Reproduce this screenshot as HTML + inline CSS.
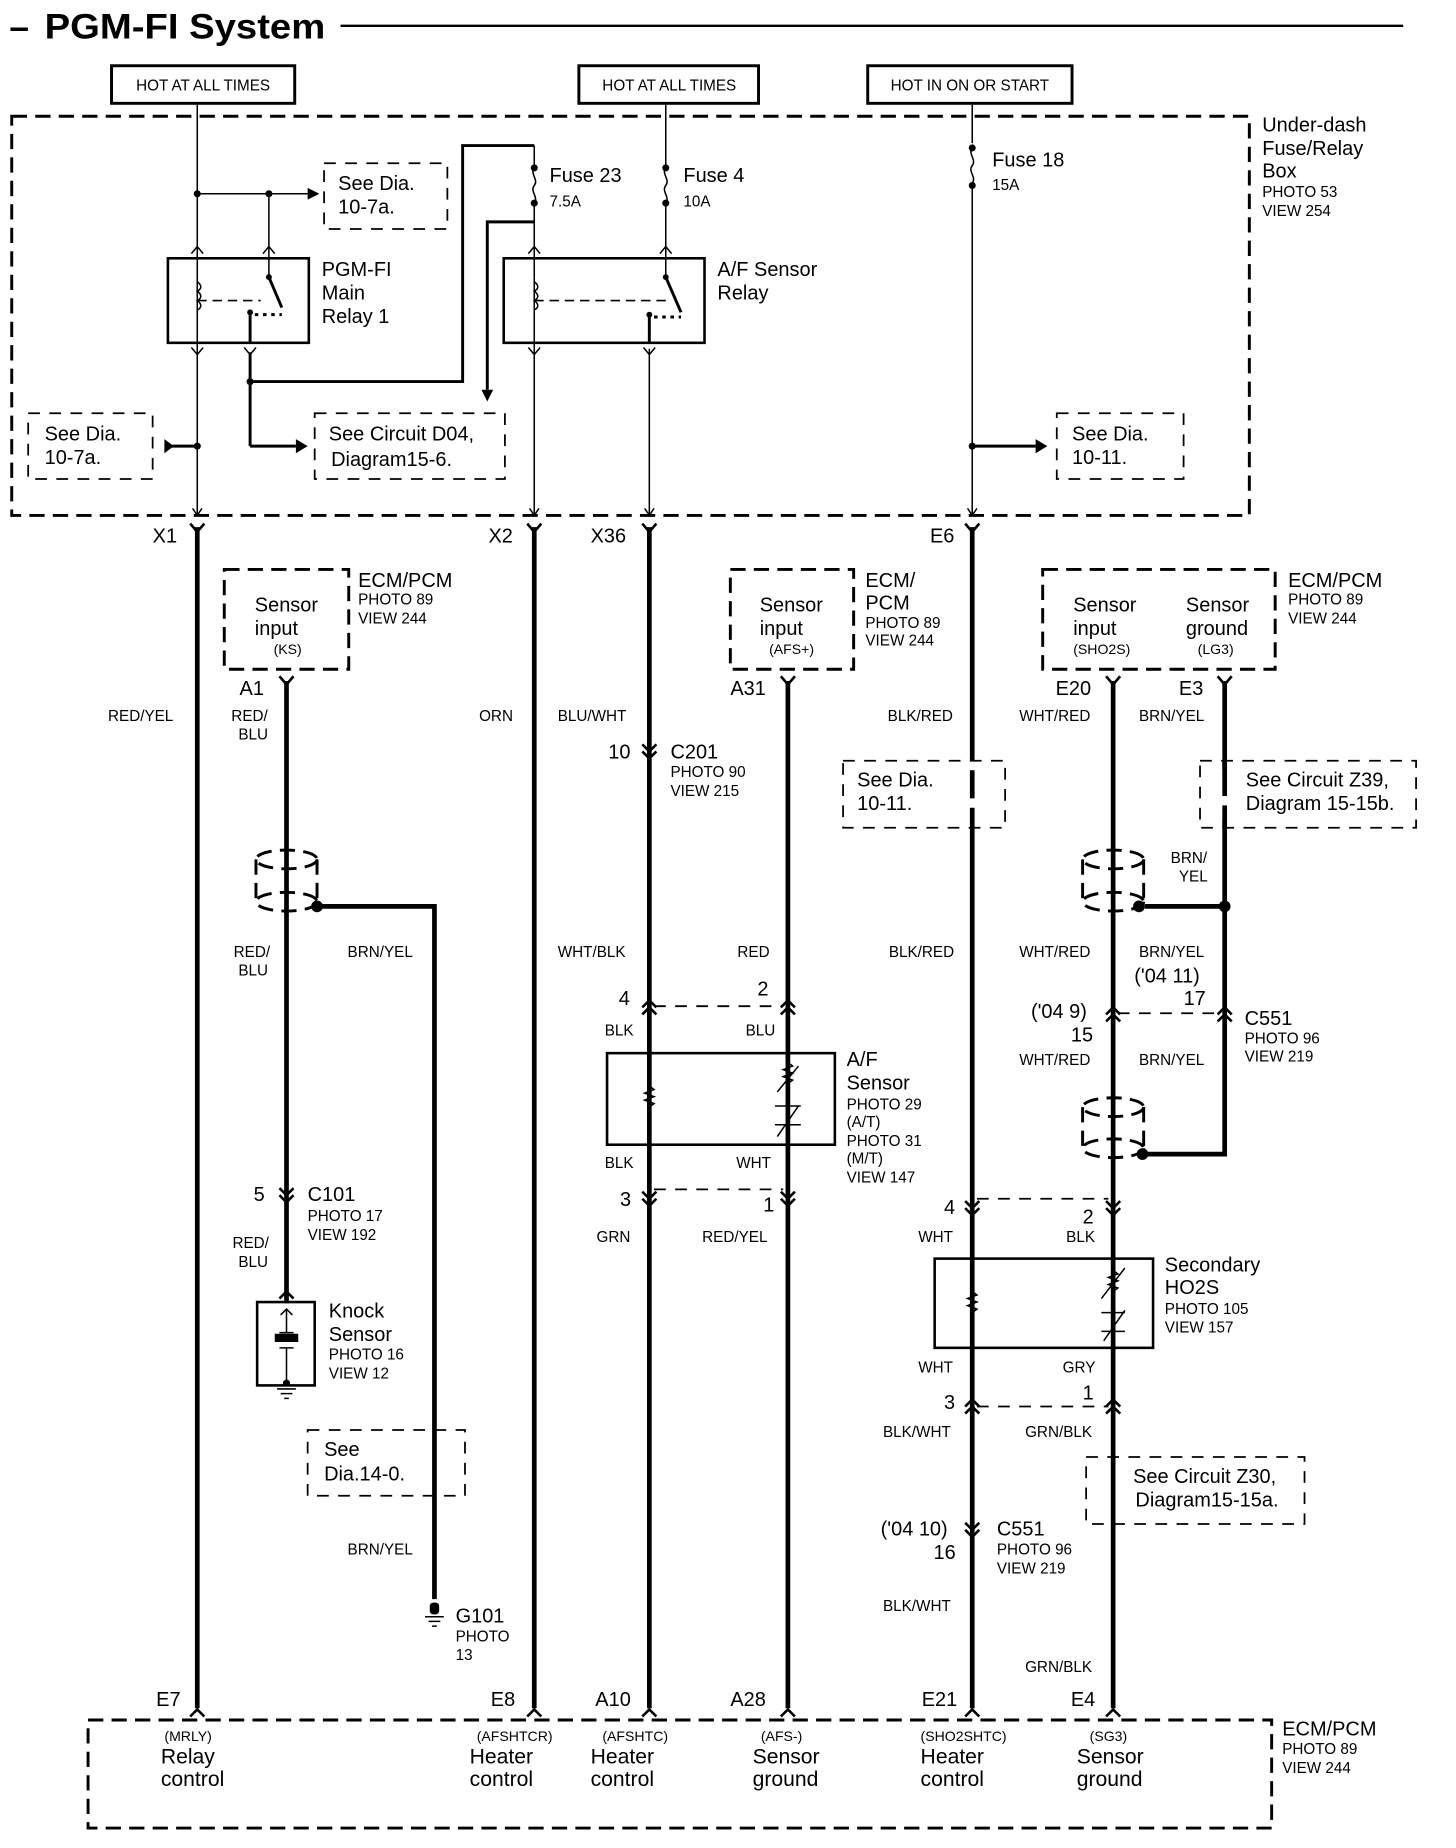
<!DOCTYPE html>
<html><head><meta charset="utf-8"><style>
html,body{margin:0;padding:0;background:#fff}
svg{display:block}
text{font-family:"Liberation Sans",sans-serif;fill:#000}
.l{font-size:17px}.s{font-size:13px}.t{font-size:12px}
.w{stroke:#000;stroke-width:4;fill:none}
.n{stroke:#000;stroke-width:1.3;fill:none}
.m{stroke:#000;stroke-width:2.5;fill:none}
.d{stroke:#000;stroke-width:2.5;fill:none;stroke-dasharray:13,7}
.dt{stroke:#000;stroke-width:1.5;fill:none;stroke-dasharray:10,8}
.c{stroke:#000;stroke-width:2.2;fill:none}
</style></head><body>
<svg width="1456" height="1848" viewBox="0 0 1240 1574" preserveAspectRatio="none">
<!-- title -->
<text x="8" y="33" style="font-size:30px;font-weight:bold">–</text>
<text x="38" y="33" style="font-size:30px;font-weight:bold" textLength="239" lengthAdjust="spacingAndGlyphs">PGM-FI System</text>
<line x1="290" y1="22" x2="1195" y2="22" stroke="#000" stroke-width="2"/>
<!-- hot boxes -->
<rect x="95" y="56" width="156" height="32" class="m"/><text x="173" y="77" class="s" text-anchor="middle">HOT AT ALL TIMES</text>
<rect x="493" y="56" width="153" height="32" class="m"/><text x="570" y="77" class="s" text-anchor="middle">HOT AT ALL TIMES</text>
<rect x="739" y="56" width="174" height="32" class="m"/><text x="826" y="77" class="s" text-anchor="middle">HOT IN ON OR START</text>
<!-- fuse box -->
<rect x="10" y="99" width="1054" height="340" class="d" stroke-width="3"/>
<text x="1075" y="112" class="l">Under-dash</text><text x="1075" y="132" class="l">Fuse/Relay</text><text x="1075" y="151" class="l">Box</text>
<text x="1075" y="168" class="s">PHOTO 53</text><text x="1075" y="184" class="s">VIEW 254</text>
<!-- X1 column -->
<line x1="168" y1="88" x2="168" y2="439" class="n"/>
<circle cx="168" cy="165" r="3"/><circle cx="229" cy="165" r="3"/>
<line x1="168" y1="165" x2="262" y2="165" class="n"/><polygon points="262,160 272,165 262,170"/>
<line x1="229" y1="165" x2="229" y2="236" class="n"/>
<path d="M276,139h105v56h-105z" class="dt"/>
<text x="288" y="162" class="l">See Dia.</text><text x="288" y="182" class="l">10-7a.</text>
<!-- relay1 -->
<rect x="143" y="220" width="120" height="72" class="c" stroke-width="3"/>
<path d="M163,216l5,-6l5,6M224,216l5,-6l5,6M163,296l5,6l5,-6M208,296l5,6l5,-6" class="n"/>
<path d="M168,240c4,3 4,6 0,8c4,3 4,6 0,8c4,3 4,6 0,8" class="n"/>
<line x1="168" y1="256" x2="222" y2="256" class="n" stroke-dasharray="8,5"/>
<circle cx="229" cy="236" r="2.5"/><line x1="229" y1="236" x2="240" y2="262" class="m"/>
<circle cx="213" cy="266" r="2.5"/><line x1="217" y1="268" x2="240" y2="268" class="m" stroke-dasharray="3,4"/>
<line x1="213" y1="266" x2="213" y2="292" class="m"/>
<text x="274" y="235" class="l">PGM-FI</text><text x="274" y="255" class="l">Main</text><text x="274" y="275" class="l">Relay 1</text>
<line x1="213" y1="300" x2="213" y2="380" class="m"/><circle cx="213" cy="325" r="3"/>
<line x1="213" y1="380" x2="252" y2="380" class="m"/><polygon points="252,374 262,380 252,386"/>
<polyline points="213,325 394,325 394,124 455,124" class="m"/>
<polyline points="455,189 415,189 415,332" class="m"/><polygon points="410,332 415,342 420,332"/>
<path d="M268,352h162v56h-162z" class="dt"/>
<text x="280" y="375" class="l">See Circuit D04,</text><text x="282" y="397" class="l">Diagram15-6.</text>
<path d="M24,352h106v56h-106z" class="dt"/>
<text x="38" y="375" class="l">See Dia.</text><text x="38" y="395" class="l">10-7a.</text>
<polygon points="140,374 148,380 140,386"/><line x1="143" y1="380" x2="168" y2="380" class="m"/><circle cx="168" cy="380" r="3"/>
<!-- fuse 23 / A/F relay -->
<line x1="455" y1="124" x2="455" y2="143" class="n"/><circle cx="455" cy="143" r="3"/>
<path d="M455,143c-4,5 4,10 0,15c-4,5 4,10 0,15" class="n"/><circle cx="455" cy="173" r="3"/>
<line x1="455" y1="173" x2="455" y2="236" class="n"/>
<text x="468" y="155" class="l">Fuse 23</text><text x="468" y="176" class="s">7.5A</text>
<line x1="567" y1="88" x2="567" y2="143" class="n"/><circle cx="567" cy="143" r="3"/>
<path d="M567,143c-4,5 4,10 0,15c-4,5 4,10 0,15" class="n"/><circle cx="567" cy="173" r="3"/>
<line x1="567" y1="173" x2="567" y2="236" class="n"/>
<text x="582" y="155" class="l">Fuse 4</text><text x="582" y="176" class="s">10A</text>
<rect x="429" y="220" width="171" height="72" class="c" stroke-width="3"/>
<path d="M450,216l5,-6l5,6M562,216l5,-6l5,6M450,296l5,6l5,-6M548,296l5,6l5,-6" class="n"/>
<path d="M455,240c4,3 4,6 0,8c4,3 4,6 0,8c4,3 4,6 0,8" class="n"/>
<line x1="455" y1="256" x2="570" y2="256" class="n" stroke-dasharray="8,5"/>
<circle cx="567" cy="236" r="2.5"/><line x1="567" y1="236" x2="580" y2="266" class="m"/>
<circle cx="553" cy="268" r="2.5"/><line x1="557" y1="270" x2="580" y2="270" class="m" stroke-dasharray="3,4"/>
<line x1="553" y1="268" x2="553" y2="292" class="m"/>
<text x="611" y="235" class="l">A/F Sensor</text><text x="611" y="255" class="l">Relay</text>
<line x1="455" y1="236" x2="455" y2="439" class="n"/>
<line x1="553" y1="297" x2="553" y2="439" class="n"/>
<!-- fuse 18 -->
<line x1="828" y1="88" x2="828" y2="122" class="n"/><circle cx="828" cy="126" r="3"/>
<path d="M828,126c-4,5 4,10 0,15c-4,5 4,10 0,15" class="n"/><circle cx="828" cy="158" r="3"/>
<line x1="828" y1="158" x2="828" y2="439" class="n"/>
<text x="845" y="142" class="l">Fuse 18</text><text x="845" y="162" class="s">15A</text>
<circle cx="828" cy="380" r="3"/><line x1="828" y1="380" x2="882" y2="380" class="m"/><polygon points="882,374 892,380 882,386"/>
<path d="M900,352h108v56h-108z" class="dt"/>
<text x="913" y="375" class="l">See Dia.</text><text x="913" y="395" class="l">10-11.</text>
<!-- fuse box exits -->
<path d="M164,433l4,6l4,-6M451,433l4,6l4,-6M549,433l4,6l4,-6M824,433l4,6l4,-6" class="n"/>
<path d="M162,446l6,7l6,-7M449,446l6,7l6,-7M547,446l6,7l6,-7M822,446l6,7l6,-7" class="c"/>
<text x="130" y="462" class="l">X1</text><text x="416" y="462" class="l">X2</text><text x="503" y="462" class="l">X36</text><text x="792" y="462" class="l">E6</text>
<!-- thick wires -->
<line x1="168" y1="449" x2="168" y2="1455" class="w"/>
<line x1="455" y1="449" x2="455" y2="1455" class="w"/>
<line x1="553" y1="449" x2="553" y2="1455" class="w"/>
<line x1="828" y1="449" x2="828" y2="648" class="w"/><line x1="828" y1="656" x2="828" y2="680" class="w"/><line x1="828" y1="688" x2="828" y2="1455" class="w"/>
<line x1="244" y1="580" x2="244" y2="1110" class="w"/>
<polyline points="274,772 370,772 370,1362" class="w"/>
<line x1="671" y1="580" x2="671" y2="1455" class="w"/>
<line x1="948" y1="580" x2="948" y2="1455" class="w"/>
<polyline points="1043,580 1043,983 975,983" class="w"/>
<line x1="975" y1="772" x2="1043" y2="772" class="w"/><circle cx="1043" cy="772" r="5"/><circle cx="970" cy="772" r="5"/><circle cx="270" cy="772" r="5"/><circle cx="973" cy="983" r="5"/>
<!-- ECM input boxes -->
<path d="M191,485h106v85h-106z" class="d"/>
<text x="217" y="521" class="l">Sensor</text><text x="217" y="541" class="l">input</text><text x="233" y="557" class="t">(KS)</text>
<text x="305" y="500" class="l">ECM/PCM</text><text x="305" y="515" class="s">PHOTO 89</text><text x="305" y="531" class="s">VIEW 244</text>
<path d="M622,485h105v85h-105z" class="d"/>
<text x="647" y="521" class="l">Sensor</text><text x="647" y="541" class="l">input</text><text x="655" y="557" class="t">(AFS+)</text>
<text x="737" y="500" class="l">ECM/</text><text x="737" y="519" class="l">PCM</text><text x="737" y="535" class="s">PHOTO 89</text><text x="737" y="550" class="s">VIEW 244</text>
<path d="M888,485h198v85h-198z" class="d"/>
<text x="914" y="521" class="l">Sensor</text><text x="914" y="541" class="l">input</text><text x="914" y="557" class="t">(SHO2S)</text>
<text x="1010" y="521" class="l">Sensor</text><text x="1010" y="541" class="l">ground</text><text x="1020" y="557" class="t">(LG3)</text>
<text x="1097" y="500" class="l">ECM/PCM</text><text x="1097" y="515" class="s">PHOTO 89</text><text x="1097" y="531" class="s">VIEW 244</text>
<path d="M238,576l6,7l6,-7M665,576l6,7l6,-7M942,576l6,7l6,-7M1037,576l6,7l6,-7" class="c"/>
<text x="204" y="592" class="l">A1</text><text x="622" y="592" class="l">A31</text><text x="899" y="592" class="l">E20</text><text x="1004" y="592" class="l">E3</text>
<!-- wire labels -->
<g class="s">
<text x="92" y="614">RED/YEL</text><text x="197" y="614">RED/</text><text x="203" y="630">BLU</text><text x="408" y="614">ORN</text>
<text x="475" y="614">BLU/WHT</text><text x="756" y="614">BLK/RED</text><text x="868" y="614">WHT/RED</text><text x="970" y="614">BRN/YEL</text>
<text x="997" y="735">BRN/</text><text x="1004" y="751">YEL</text>
<text x="199" y="815">RED/</text><text x="203" y="831">BLU</text><text x="296" y="815">BRN/YEL</text><text x="475" y="815">WHT/BLK</text>
<text x="628" y="815">RED</text><text x="757" y="815">BLK/RED</text><text x="868" y="815">WHT/RED</text><text x="970" y="815">BRN/YEL</text>
<text x="515" y="882">BLK</text><text x="635" y="882">BLU</text><text x="868" y="907">WHT/RED</text><text x="970" y="907">BRN/YEL</text>
<text x="515" y="995">BLK</text><text x="627" y="995">WHT</text><text x="508" y="1058">GRN</text><text x="598" y="1058">RED/YEL</text>
<text x="198" y="1063">RED/</text><text x="203" y="1079">BLU</text>
<text x="782" y="1058">WHT</text><text x="908" y="1058">BLK</text><text x="782" y="1169">WHT</text><text x="905" y="1169">GRY</text>
<text x="752" y="1224">BLK/WHT</text><text x="873" y="1224">GRN/BLK</text><text x="752" y="1372">BLK/WHT</text><text x="873" y="1424">GRN/BLK</text>
<text x="296" y="1324">BRN/YEL</text>
</g>
<!-- C201 -->
<path d="M547,634l6,6l6,-6M547,640l6,6l6,-6" class="c"/>
<text x="518" y="646" class="l">10</text><text x="571" y="646" class="l">C201</text><text x="571" y="662" class="s">PHOTO 90</text><text x="571" y="678" class="s">VIEW 215</text>
<!-- see boxes middle -->
<path d="M718,648h138v57h-138z" class="dt"/>
<text x="730" y="670" class="l">See Dia.</text><text x="730" y="690" class="l">10-11.</text>
<path d="M1022,648h184v57h-184z" class="dt"/>
<rect x="1038" y="655" width="10" height="44" fill="#fff"/>
<line x1="1043" y1="648" x2="1043" y2="705" class="w" stroke-dasharray="30,8"/>
<text x="1061" y="670" class="l">See Circuit Z39,</text><text x="1061" y="690" class="l">Diagram 15-15b.</text>
<!-- shields -->
<g class="d" stroke-width="2.5" stroke-dasharray="8,4">
<ellipse cx="244" cy="732" rx="26" ry="8"/><ellipse cx="244" cy="768" rx="26" ry="8"/><line x1="218" y1="732" x2="218" y2="768"/><line x1="270" y1="732" x2="270" y2="768"/>
<ellipse cx="948" cy="732" rx="26" ry="8"/><ellipse cx="948" cy="768" rx="26" ry="8"/><line x1="922" y1="732" x2="922" y2="768"/><line x1="974" y1="732" x2="974" y2="768"/>
<ellipse cx="948" cy="943" rx="26" ry="8"/><ellipse cx="948" cy="978" rx="26" ry="8"/><line x1="922" y1="943" x2="922" y2="978"/><line x1="974" y1="943" x2="974" y2="978"/>
</g>
<!-- AF sensor connectors -->
<path d="M547,858l6,-6l6,6M547,864l6,-6l6,6M665,858l6,-6l6,6M665,864l6,-6l6,6" class="c"/>
<line x1="557" y1="857" x2="667" y2="857" class="dt"/>
<text x="527" y="856" class="l">4</text><text x="645" y="848" class="l">2</text>
<rect x="517" y="897" width="194" height="78" class="c" stroke-width="3"/>
<path d="M553,925l4,3l-8,3l8,3l-8,3l8,3l-4,3" class="n"/>
<path d="M671,905l4,3l-8,3l8,3l-8,3l8,3l-4,3M662,930l18,-22M660,942h22M660,958h22M662,968l18,-26" class="n"/>
<path d="M547,1015l6,6l6,-6M547,1021l6,6l6,-6M665,1015l6,6l6,-6M665,1021l6,6l6,-6" class="c"/>
<line x1="557" y1="1013" x2="667" y2="1013" class="dt"/>
<text x="528" y="1027" class="l">3</text><text x="650" y="1032" class="l">1</text>
<text x="721" y="908" class="l">A/F</text><text x="721" y="928" class="l">Sensor</text><text x="721" y="945" class="s">PHOTO 29</text><text x="721" y="960" class="s">(A/T)</text><text x="721" y="976" class="s">PHOTO 31</text><text x="721" y="991" class="s">(M/T)</text><text x="721" y="1007" class="s">VIEW 147</text>
<!-- C551 top -->
<path d="M942,864l6,-6l6,6M942,870l6,-6l6,6M1037,864l6,-6l6,6M1037,870l6,-6l6,6" class="c"/>
<line x1="952" y1="863" x2="1040" y2="863" class="dt"/>
<text x="966" y="837" class="l">('04 11)</text><text x="1008" y="856" class="l">17</text><text x="878" y="867" class="l">('04 9)</text><text x="912" y="887" class="l">15</text>
<text x="1060" y="873" class="l">C551</text><text x="1060" y="889" class="s">PHOTO 96</text><text x="1060" y="904" class="s">VIEW 219</text>
<!-- C101 / knock -->
<path d="M238,1012l6,6l6,-6M238,1018l6,6l6,-6" class="c"/>
<text x="216" y="1023" class="l">5</text><text x="262" y="1023" class="l">C101</text><text x="262" y="1040" class="s">PHOTO 17</text><text x="262" y="1056" class="s">VIEW 192</text>
<path d="M238,1106l6,-6l6,6" class="c"/>
<rect x="219" y="1109" width="49" height="71" class="c" stroke-width="3.5"/>
<path d="M244,1115v20M239,1120l5,-5l5,5M238,1135h12M244,1148v28M238,1148h12" class="n"/>
<rect x="234" y="1136" width="20" height="7"/>
<circle cx="244" cy="1178" r="3"/><path d="M236,1183h16M239,1187h10M242,1191h4" class="n"/>
<text x="280" y="1122" class="l">Knock</text><text x="280" y="1142" class="l">Sensor</text><text x="280" y="1158" class="s">PHOTO 16</text><text x="280" y="1174" class="s">VIEW 12</text>
<!-- HO2S -->
<path d="M822,1023l6,6l6,-6M822,1029l6,6l6,-6M942,1023l6,6l6,-6M942,1029l6,6l6,-6" class="c"/>
<line x1="832" y1="1021" x2="944" y2="1021" class="dt"/>
<text x="804" y="1034" class="l">4</text><text x="922" y="1042" class="l">2</text>
<rect x="796" y="1072" width="186" height="76" class="c" stroke-width="3"/>
<path d="M828,1100l4,3l-8,3l8,3l-8,3l8,3l-4,3" class="n"/>
<path d="M948,1082l4,3l-8,3l8,3l-8,3l8,3l-4,3M938,1106l20,-26M938,1118h20M938,1134h20M940,1142l18,-26" class="n"/>
<path d="M822,1198l6,-6l6,6M822,1204l6,-6l6,6M942,1198l6,-6l6,6M942,1204l6,-6l6,6" class="c"/>
<line x1="832" y1="1198" x2="944" y2="1198" class="dt"/>
<text x="804" y="1200" class="l">3</text><text x="922" y="1192" class="l">1</text>
<text x="992" y="1083" class="l">Secondary</text><text x="992" y="1102" class="l">HO2S</text><text x="992" y="1119" class="s">PHOTO 105</text><text x="992" y="1135" class="s">VIEW 157</text>
<path d="M925,1241h186v57h-186z" class="dt"/>
<text x="965" y="1263" class="l">See Circuit Z30,</text><text x="967" y="1283" class="l">Diagram15-15a.</text>
<path d="M822,1297l6,6l6,-6M822,1303l6,6l6,-6" class="c"/>
<text x="750" y="1308" class="l">('04 10)</text><text x="795" y="1328" class="l">16</text>
<text x="849" y="1308" class="l">C551</text><text x="849" y="1324" class="s">PHOTO 96</text><text x="849" y="1340" class="s">VIEW 219</text>
<!-- see dia 14-0 / G101 -->
<path d="M262,1218h134v56h-134z" class="dt"/>
<text x="276" y="1240" class="l">See</text><text x="276" y="1261" class="l">Dia.14-0.</text>
<rect x="366" y="1365" width="8" height="10" rx="3"/><path d="M362,1377h16M365,1381h10M368,1385h4" class="n"/>
<text x="388" y="1382" class="l">G101</text><text x="388" y="1398" class="s">PHOTO</text><text x="388" y="1414" class="s">13</text>
<!-- bottom ECM -->
<path d="M162,1462l6,-6l6,6M449,1462l6,-6l6,6M547,1462l6,-6l6,6M665,1462l6,-6l6,6M822,1462l6,-6l6,6M942,1462l6,-6l6,6" class="c"/>
<text x="133" y="1453" class="l">E7</text><text x="418" y="1453" class="l">E8</text><text x="507" y="1453" class="l">A10</text><text x="622" y="1453" class="l">A28</text><text x="785" y="1453" class="l">E21</text><text x="912" y="1453" class="l">E4</text>
<path d="M75,1465h1008v92h-1008z" class="d"/>
<text x="1092" y="1478" class="l">ECM/PCM</text><text x="1092" y="1494" class="s">PHOTO 89</text><text x="1092" y="1510" class="s">VIEW 244</text>
<g class="t"><text x="140" y="1483">(MRLY)</text><text x="406" y="1483">(AFSHTCR)</text><text x="513" y="1483">(AFSHTC)</text><text x="648" y="1483">(AFS-)</text><text x="784" y="1483">(SHO2SHTC)</text><text x="928" y="1483">(SG3)</text></g>
<g style="font-size:18px">
<text x="137" y="1502">Relay</text><text x="137" y="1521">control</text>
<text x="400" y="1502">Heater</text><text x="400" y="1521">control</text>
<text x="503" y="1502">Heater</text><text x="503" y="1521">control</text>
<text x="641" y="1502">Sensor</text><text x="641" y="1521">ground</text>
<text x="784" y="1502">Heater</text><text x="784" y="1521">control</text>
<text x="917" y="1502">Sensor</text><text x="917" y="1521">ground</text>
</g>
</svg>
</body></html>
